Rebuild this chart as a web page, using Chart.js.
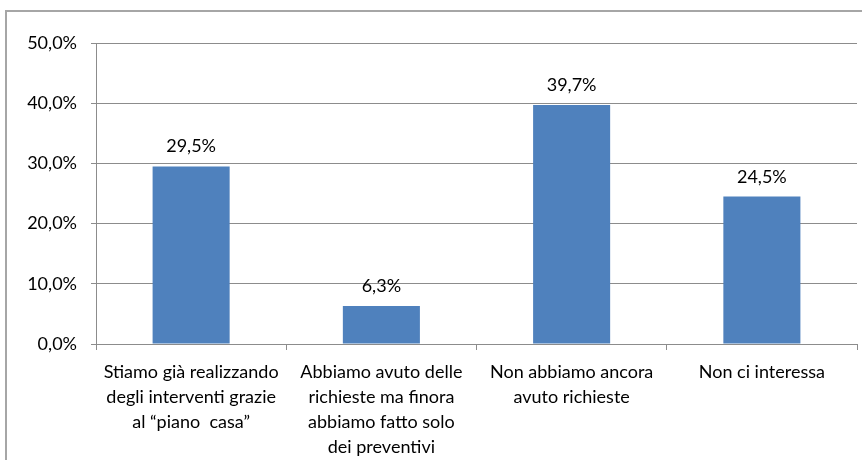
<!DOCTYPE html>
<html>
<head>
<meta charset="utf-8">
<script src="https://cdn.jsdelivr.net/npm/chart.js@4.4.0/dist/chart.umd.min.js"></script>
<style>
	html, body {
		margin: 0;
		padding: 0;
		background: #ffffff;
		overflow: hidden;
	}

	#frame {
		position: absolute;
		left: 5px;
		top: 10px;
		width: 900px;
		height: 500px;
		border: 2px solid #a6a6a6;
		box-sizing: border-box;
		pointer-events: none;
	}

	#wrap {
		position: absolute;
		left: 0;
		top: 0;
		width: 862px;
		height: 460px;
	}
</style>
</head>
<body>
<div id="wrap"><canvas id="myChart"></canvas></div>
<div id="frame"></div>

<script>
	const categories = [
		["Stiamo già realizzando", "degli interventi grazie", "al \u201cpiano  casa\u201d"],
		["Abbiamo avuto delle", "richieste ma finora", "abbiamo fatto solo", "dei preventivi"],
		["Non abbiamo ancora", "avuto richieste"],
		["Non ci interessa"]
	];
	const values = [29.5, 6.3, 39.7, 24.5];
	const yTicks = [0, 10, 20, 30, 40, 50];

	const fontFamily = "Lato, 'Open Sans', sans-serif";
	const gridColor = '#8c8c8c';

	function pct(v) {
		return v.toFixed(1).replace('.', ',') + '%';
	}

	// draw the value above each bar
	const valueLabels = {
		id: 'valueLabels',
		afterDatasetsDraw(chart) {
			const ctx = chart.ctx;
			const meta = chart.getDatasetMeta(0);
			ctx.save();
			ctx.font = '18px ' + fontFamily;
			ctx.fillStyle = '#000000';
			ctx.textAlign = 'center';
			ctx.textBaseline = 'alphabetic';
			meta.data.forEach(function (bar, i) {
				ctx.fillText(pct(values[i]), bar.x, bar.y - 14);
			});
			ctx.restore();
		}
	};

	const data = {
		labels: categories,
		datasets: [{
			data: values,
			backgroundColor: '#4f81bd',
			borderWidth: 0,
			categoryPercentage: 0.405,
			barPercentage: 1.0
		}]
	};

	const config = {
		type: 'bar',
		data: data,
		plugins: [valueLabels],
		options: {
			responsive: true,
			maintainAspectRatio: false,
			animation: false,
			layout: {
				padding: { left: 0, right: 5, top: 43, bottom: 0 }
			},
			plugins: {
				legend: { display: false },
				tooltip: { enabled: false }
			},
			scales: {
				x: {
					offset: true,
					grid: {
						offset: true,
						drawOnChartArea: false,
						color: gridColor,
						tickLength: 6,
						lineWidth: 1
					},
					border: { color: gridColor, width: 1 },
					ticks: {
						color: '#000000',
						padding: 10,
						maxRotation: 0,
						autoSkip: false,
						font: { family: fontFamily, size: 18, lineHeight: 1.39 }
					},
					afterFit: function (scale) {
						scale.height = 116;
					}
				},
				y: {
					min: 0,
					max: 50,
					afterBuildTicks: function (scale) {
						scale.ticks = yTicks.map(function (v) { return { value: v }; });
					},
					grid: {
						color: gridColor,
						tickLength: 5,
						lineWidth: 1
					},
					border: { color: gridColor, width: 1 },
					ticks: {
						color: '#000000',
						padding: 14,
						font: { family: fontFamily, size: 18 },
						callback: function (v) { return pct(v); }
					},
					afterFit: function (scale) {
						scale.width = 96;
					}
				}
			}
		}
	};

	const myChart = new Chart(
		document.getElementById('myChart'),
		config
	);
</script>
</body>
</html>
